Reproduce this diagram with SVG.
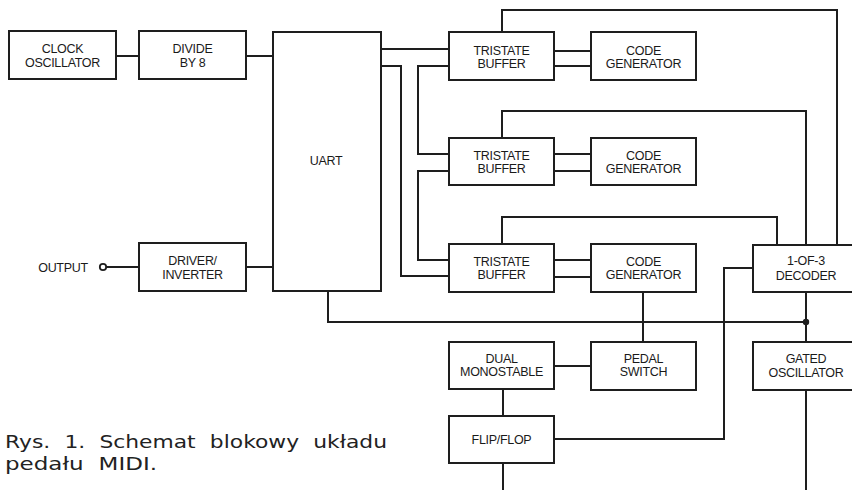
<svg xmlns="http://www.w3.org/2000/svg" width="852" height="490" viewBox="0 0 852 490">
<style>
.b{fill:#fff;stroke:#1e1e1e;stroke-width:2}
.w{fill:none;stroke:#1e1e1e;stroke-width:2}
.t{font-family:"Liberation Sans",Arial,sans-serif;font-size:12.5px;fill:#1a1a1a;text-anchor:middle;letter-spacing:-0.3px}
.c{font-family:"DejaVu Sans","Liberation Sans",sans-serif;font-size:18px;fill:#222}
</style>
<rect width="852" height="490" fill="#fff"/>
<g id="connectors">
<path class="w" d="M116,56H139M246,56H273M106,267H139M246,267H273"/>
<path class="w" d="M381,49H449M381,66H401V276H449M449,66H418V154H449M449,171H418V260H449"/>
<path class="w" d="M554,51H591M554,66H591M554,154H591M554,171H591M554,260H591M554,277H591"/>
<path class="w" d="M502,32V10H837V245M502,138V111H806V245M502,244V217H777V245"/>
<path class="w" d="M753,268H724V439H554"/>
<path class="w" d="M328,291V322H806M806,292V342M643,292V342M554,366H591M503,389V416M503,463V490M806,390V490"/>
<circle cx="806" cy="322" r="3.2" fill="#1e1e1e"/>
<circle cx="103" cy="267" r="3.2" fill="#fff" stroke="#1e1e1e" stroke-width="1.8"/>
</g>
<g id="clock"><rect class="b" x="9" y="31" width="107" height="48"/><text class="t" x="62.5" y="53">CLOCK</text><text class="t" x="62.5" y="67">OSCILLATOR</text></g>
<g id="divide"><rect class="b" x="139" y="31" width="107" height="48"/><text class="t" x="192.5" y="53">DIVIDE</text><text class="t" x="192.5" y="67">BY 8</text></g>
<g id="uart"><rect class="b" x="273" y="32" width="108" height="259"/><text class="t" x="326" y="165">UART</text></g>
<g id="output"><text class="t" x="63" y="272">OUTPUT</text></g>
<g id="driver"><rect class="b" x="139" y="243" width="107" height="48"/><text class="t" x="192.5" y="265">DRIVER/</text><text class="t" x="192.5" y="279">INVERTER</text></g>
<g id="tri1"><rect class="b" x="449" y="32" width="105" height="48"/><text class="t" x="501.5" y="55">TRISTATE</text><text class="t" x="501.5" y="68">BUFFER</text></g>
<g id="code1"><rect class="b" x="591" y="32" width="105" height="48"/><text class="t" x="643.5" y="55">CODE</text><text class="t" x="643.5" y="68">GENERATOR</text></g>
<g id="tri2"><rect class="b" x="449" y="138" width="105" height="47"/><text class="t" x="501.5" y="160">TRISTATE</text><text class="t" x="501.5" y="173">BUFFER</text></g>
<g id="code2"><rect class="b" x="591" y="138" width="105" height="47"/><text class="t" x="643.5" y="160">CODE</text><text class="t" x="643.5" y="173">GENERATOR</text></g>
<g id="tri3"><rect class="b" x="449" y="244" width="105" height="48"/><text class="t" x="501.5" y="266">TRISTATE</text><text class="t" x="501.5" y="279">BUFFER</text></g>
<g id="code3"><rect class="b" x="591" y="244" width="105" height="48"/><text class="t" x="643.5" y="266">CODE</text><text class="t" x="643.5" y="279">GENERATOR</text></g>
<g id="decoder"><rect class="b" x="753" y="245" width="106" height="47"/><text class="t" x="806" y="265">1-OF-3</text><text class="t" x="806" y="280">DECODER</text></g>
<g id="dual"><rect class="b" x="449" y="342" width="105" height="47"/><text class="t" x="501.5" y="363">DUAL</text><text class="t" x="501.5" y="376">MONOSTABLE</text></g>
<g id="pedal"><rect class="b" x="591" y="342" width="105" height="48"/><text class="t" x="643.5" y="363">PEDAL</text><text class="t" x="643.5" y="376">SWITCH</text></g>
<g id="gated"><rect class="b" x="753" y="342" width="106" height="48"/><text class="t" x="806" y="363">GATED</text><text class="t" x="806" y="377">OSCILLATOR</text></g>
<g id="flipflop"><rect class="b" x="449" y="416" width="105" height="47"/><text class="t" x="501.5" y="444">FLIP/FLOP</text></g>
<g id="caption">
<text class="c" x="5" y="448" textLength="382" lengthAdjust="spacingAndGlyphs" word-spacing="6">Rys. 1. Schemat blokowy układu</text>
<text class="c" x="5" y="470" textLength="152" lengthAdjust="spacingAndGlyphs" word-spacing="6">pedału MIDI.</text>
</g>
</svg>
